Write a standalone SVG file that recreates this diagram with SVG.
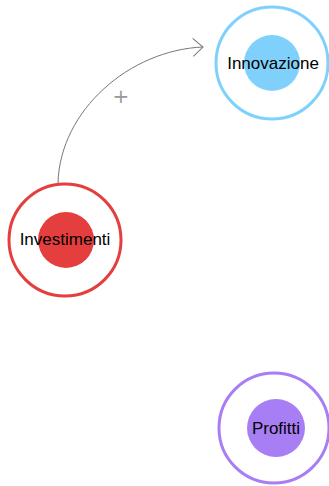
<svg xmlns="http://www.w3.org/2000/svg" width="329" height="486" viewBox="0 0 329 486">
<style>
.ring{fill:none;stroke-width:3}
.lbl{font-family:"Liberation Sans",Arial,sans-serif;font-size:17px;fill:#000;text-anchor:middle}
.edge{fill:none;stroke:#777;stroke-width:1}
.sign{font-family:"DejaVu Sans",sans-serif;font-size:20px;fill:#999;text-anchor:middle}
</style>
<defs>
<marker id="arr" viewBox="0 0 12 20" refX="11" refY="10" markerWidth="12" markerHeight="20" markerUnits="userSpaceOnUse" orient="auto">
<polyline points="1,1 11,10 1,19" fill="none" stroke="#777" stroke-width="1"/>
</marker>
</defs>
<g id="connectors">
<path class="edge" d="M58,183 C60,110 130,50 203,47" marker-end="url(#arr)"/>
<text class="sign" x="121" y="103">+</text>
</g>
<g id="investimenti">
<circle class="ring" cx="65" cy="240" r="56" stroke="#e53e3e"/>
<circle cx="66" cy="240" r="28" fill="#e53e3e"/>
<text class="lbl" x="65" y="245">Investimenti</text>
</g>
<g id="innovazione">
<circle class="ring" cx="272" cy="63" r="56" stroke="#7fd1fc"/>
<circle cx="272" cy="63" r="28" fill="#7fd1fc"/>
<text class="lbl" x="273" y="69">Innovazione</text>
</g>
<g id="profitti">
<circle class="ring" cx="274" cy="428" r="55" stroke="#a87ef5"/>
<circle cx="276" cy="428" r="29" fill="#a87ef5"/>
<text class="lbl" x="276" y="434">Profitti</text>
</g>
</svg>
